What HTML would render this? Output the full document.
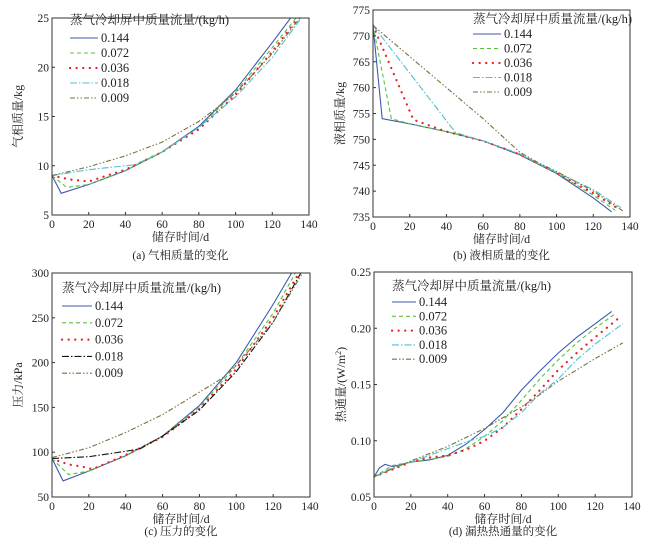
<!DOCTYPE html>
<html><head><meta charset="utf-8"><style>
body{margin:0;background:#fff;width:652px;height:545px;overflow:hidden}
svg text{font-family:"Liberation Serif","Noto Serif CJK SC",serif;fill:#222}
</style></head><body>
<svg id="s" width="652" height="545"></svg>
<script>
const legendTitle="蒸气冷却屏中质量流量/(kg/h)";
const seriesNames=["0.144","0.072","0.036","0.018","0.009"];
const xTicks=[0,20,40,60,80,100,120,140];
const aTicks=[5,10,15,20,25];
const bTicks=[735,740,745,750,755,760,765,770,775];
const cTicks=[50,100,150,200,250,300];
const dTicks=[0.05,0.10,0.15,0.20,0.25];
const a144=[[0,9],[5,7.2],[20,8.1],[40,9.5],[60,11.4],[80,14],[100,17.7],[120,22.5],[130,25]];
const a072=[[0,9],[8,7.8],[20,8.1],[40,9.5],[60,11.4],[80,13.9],[100,17.5],[120,22],[133,25]];
const a036=[[0,9],[5,8.8],[10,8.6],[15,8.5],[20,8.4],[40,9.6],[60,11.4],[80,13.7],[100,17.2],[120,21.6],[134,25]];
const a018=[[0,9],[10,9.3],[20,9.6],[30,9.8],[45,10.1],[60,11.4],[80,13.9],[100,17],[120,21],[135,24.8]];
const a009=[[0,9],[20,9.9],[40,11],[60,12.4],[80,14.5],[90,15.9],[100,17.4],[120,21.4],[135,25]];
const b144=[[0,772],[5,754],[20,753],[40,751.5],[60,749.7],[80,747],[100,743.4],[120,738.7],[130,736]];
const b072=[[0,772],[10,754],[20,753],[40,751.5],[60,749.7],[80,747.1],[100,743.5],[120,739.2],[132,736.3]];
const b036=[[0,772],[22,753.8],[40,751.5],[60,749.7],[80,747.1],[100,743.5],[120,739.6],[134,736.5]];
const b018=[[0,772],[45,751.3],[60,749.7],[80,747.2],[100,743.6],[120,740.3],[135,736.8]];
const b009=[[0,772],[40,760],[60,754],[80,747.5],[90,745.5],[100,743.8],[120,740],[136,736.2]];
const c144=[[0,93],[6,68],[20,79],[40,96],[60,118],[80,152],[100,200],[120,265],[130,300]];
const c072=[[0,93],[9,75],[20,79],[40,96],[60,118],[80,150],[100,197],[120,255],[132,300]];
const c036=[[0,93],[5,89],[10,86],[16,84],[22,81],[40,97],[60,117],[80,148],[100,193],[120,250],[134,300]];
const c018=[[0,93],[20,95],[40,101],[48,104],[60,118],[80,147],[100,190],[120,245],[135,300]];
const c009=[[0,94],[20,105],[40,122],[60,142],[80,167],[92,182],[100,197],[120,245],[136,300]];
const d144=[[0,0.068],[3,0.076],[6,0.079],[10,0.077],[20,0.081],[30,0.083],[40,0.087],[50,0.097],[60,0.11],[70,0.125],[80,0.145],[90,0.162],[100,0.178],[110,0.192],[120,0.204],[129,0.215]];
const d072=[[0,0.068],[10,0.078],[20,0.081],[40,0.086],[50,0.093],[60,0.104],[70,0.118],[80,0.136],[90,0.155],[100,0.172],[110,0.187],[120,0.2],[131,0.213]];
const d036=[[0,0.068],[20,0.081],[30,0.085],[40,0.087],[50,0.092],[60,0.1],[70,0.112],[80,0.128],[90,0.145],[100,0.163],[110,0.178],[120,0.192],[132,0.208]];
const d018=[[0,0.068],[10,0.076],[20,0.081],[30,0.087],[40,0.093],[50,0.099],[60,0.104],[70,0.112],[80,0.125],[90,0.142],[100,0.155],[110,0.172],[120,0.186],[135,0.204]];
const d009=[[0,0.068],[10,0.075],[20,0.082],[40,0.095],[60,0.111],[80,0.13],[90,0.141],[100,0.153],[110,0.163],[120,0.173],[135,0.187]];

const NS="http://www.w3.org/2000/svg",S=document.getElementById('s');
function mk(t,at,p){const e=document.createElementNS(NS,t);for(const k in at)e.setAttribute(k,at[k]);(p||S).appendChild(e);return e;}
const styles=[{c:"#3b5bab",d:""},{c:"#5cbf3c",d:"4,3"},{c:"#e8202a",d:"0.1,6.5",w:2.2},{c:"#4fc0d0",d:"7,2,1.5,2"},{c:"#7a7040",d:"5,2,1.5,2,1.5,2"}];
function panel(o){
  const g=mk('g',{});
  const X=v=>o.x0+(v-0)/140*(o.x1-o.x0), Y=v=>o.y1-(v-o.ymin)/(o.ymax-o.ymin)*(o.y1-o.y0);
  const cp='cp'+o.name;const cl=mk('clipPath',{id:cp},g);mk('rect',{x:o.x0,y:o.y0,width:o.x1-o.x0,height:o.y1-o.y0},cl);
  o.series.forEach((s,i)=>{const st=o.styles[i];
    const p=mk('polyline',{points:s.map(q=>X(q[0]).toFixed(1)+','+Y(q[1]).toFixed(1)).join(' '),fill:'none',stroke:st.c,'stroke-width':st.w||1.1,'stroke-dasharray':st.d,'stroke-linecap':st.w?'round':'butt','clip-path':'url(#'+cp+')'},g);
    });
  const f=mk('rect',{x:o.x0,y:o.y0,width:o.x1-o.x0,height:o.y1-o.y0,fill:'none',stroke:'#333','stroke-width':1},g);
  
  xTicks.forEach(v=>{mk('line',{x1:X(v),x2:X(v),y1:o.y1,y2:o.y1-3,stroke:'#333'},g);
    const t=mk('text',{x:X(v),y:o.y1+13,'text-anchor':'middle','font-size':11.5},g);t.textContent=v;});
  o.yt.forEach(v=>{mk('line',{x1:o.x0,x2:o.x0+3,y1:Y(v),y2:Y(v),stroke:'#333'},g);
    const t=mk('text',{x:o.x0-3,y:Y(v)+4,'text-anchor':'end','font-size':11.5},g);t.textContent=o.fmt?o.fmt(v):v;});
  let t=mk('text',{x:(o.x0+o.x1)/2,y:o.y1+26,'text-anchor':'middle','font-size':12},g);t.textContent="储存时间/d";
  t=mk('text',{x:(o.x0+o.x1)/2,y:o.cy,'text-anchor':'middle','font-size':11.5},g);t.textContent=o.cap;
  t=mk('text',{x:0,y:0,'text-anchor':'middle','font-size':12,transform:`translate(${o.ytx},${(o.y0+o.y1)/2}) rotate(-90)`},g);t.innerHTML=o.ylab;
  const L=o.leg;t=mk('text',{x:L.x,y:L.y,'font-size':12.5},g);t.textContent=legendTitle;
  seriesNames.forEach((n,i)=>{const yy=L.y+L.r0+i*L.dy,st=o.styles[i];
    mk('line',{x1:L.x,x2:L.x+L.w,y1:yy-4,y2:yy-4,stroke:st.c,'stroke-width':st.w||1.1,'stroke-dasharray':st.d,'stroke-linecap':st.w?'round':'butt'},g);
    const e=mk('text',{x:L.x+L.w+3,y:yy,'font-size':12.5},g);e.textContent=n;});
}
panel({name:'panel-a',x0:52,x1:309,y0:18,y1:215,ymin:5,ymax:25,yt:aTicks,series:[a144,a072,a036,a018,a009],styles,cap:"(a) 气相质量的变化",cy:259,ytx:22,ylab:"气相质量/kg",leg:{x:70,y:24,r0:18,dy:15,w:28}});
panel({name:'panel-b',x0:373,x1:630,y0:10,y1:217,ymin:735,ymax:775,yt:bTicks,series:[b144,b072,b036,b018,b009],styles,cap:"(b) 液相质量的变化",cy:259,ytx:344,ylab:"液相质量/kg",leg:{x:473,y:23,r0:15,dy:14.5,w:28}});
const cst=styles.slice();cst[3]={c:"#111",d:"7,2,1.5,2"};
panel({name:'panel-c',x0:52,x1:310,y0:273,y1:497,ymin:50,ymax:300,yt:cTicks,series:[c144,c072,c036,c018,c009],styles:cst,cap:"(c) 压力的变化",cy:535,ytx:22,ylab:"压力/kPa",leg:{x:62,y:292,r0:18,dy:16.8,w:30}});
panel({name:'panel-d',x0:374,x1:632,y0:272,y1:497,ymin:0.05,ymax:0.25,yt:dTicks,series:[d144,d072,d036,d018,d009],styles,fmt:v=>v.toFixed(2),cap:"(d) 漏热热通量的变化",cy:535,ytx:345,ylab:"热通量/(W/m<tspan font-size='8' dy='-4'>2</tspan><tspan dy='4'>)</tspan>",leg:{x:392,y:290,r0:16,dy:14.3,w:24}});
</script></body></html>
